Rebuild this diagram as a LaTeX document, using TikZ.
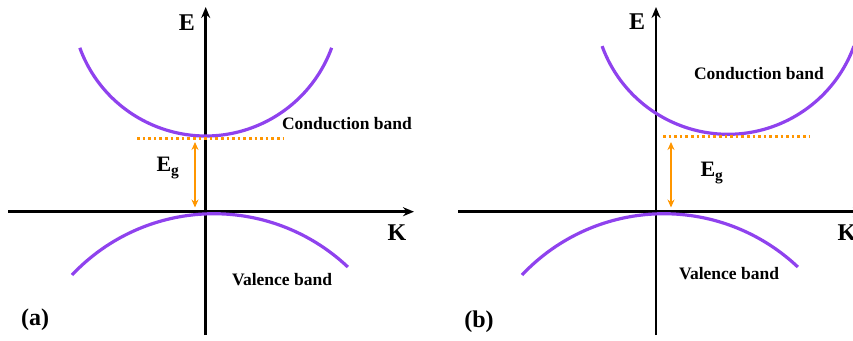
\documentclass[tikz,border=0pt]{standalone}
\usepackage{fontspec}
\setmainfont{Liberation Serif}
\usetikzlibrary{arrows.meta}
\definecolor{bandpurple}{RGB}{143,66,238}
\definecolor{gaporange}{RGB}{255,150,0}
\tikzset{
  axisline/.style={line width=2.8pt,black,-{Stealth[length=11pt,width=9pt]}},
  band/.style={line width=3.2pt,bandpurple},
  level/.style={line width=2.8pt,gaporange,dash pattern=on 2.6pt off 3pt},
  gap/.style={line width=2pt,gaporange,{Stealth[length=8pt,width=7pt]}-{Stealth[length=8pt,width=7pt]}},
  bandlabel/.style={font=\fontsize{17.5}{20}\selectfont\bfseries,inner sep=0pt},
  axislabel/.style={font=\fontsize{24}{28}\selectfont\bfseries,inner sep=0pt},
  gaplabel/.style={font=\fontsize{22}{26}\selectfont\bfseries,inner sep=0pt},
  panellabel/.style={font=\fontsize{24}{28}\selectfont\bfseries,inner sep=0pt},
}
\begin{document}
\begin{tikzpicture}[x=1pt,y=1pt]
\useasboundingbox (0,0) rectangle (853,340);
\clip (0,0) rectangle (853,340);
% ---------- panel (a) ----------
\coordinate (aEbot) at (205.7,5);
\coordinate (aEtop) at (205.7,333);
\coordinate (aKl) at (8,128.3);
\coordinate (aKr) at (414,128.3);
\draw[axisline] (aEbot) -- (aEtop);
\draw[axisline] (aKl) -- (aKr);
\coordinate (aCstart) at (79.8,292.2);
\draw[band] (aCstart) arc[start angle=200,end angle=340,radius=134];
\coordinate (aVstart) at (72,65);
\draw[band] (aVstart) arc[start angle=136.7,end angle=46.6,radius=195];
\coordinate (aLl) at (137,201.7);
\coordinate (aLr) at (283,201.7);
\draw[level] (aLl) -- (aLr);
\coordinate (aGtop) at (195,198);
\coordinate (aGbot) at (195,132.5);
\draw[gap] (aGbot) -- (aGtop);
\node[axislabel] (aE) at (187,317) {E};
\node[axislabel] (aK) at (397,107) {K};
\node[bandlabel] (aCB) at (347,216) {Conduction band};
\node[bandlabel] (aVB) at (282,60) {Valence band};
\node[gaplabel] (aEg) at (168,172) {E\textsubscript{g}};
\node[panellabel] (aP) at (35,20) {(a)};
% ---------- panel (b) ----------
\coordinate (bEbot) at (656,5);
\coordinate (bEtop) at (656,333);
\coordinate (bKl) at (458,128.3);
\coordinate (bKr) at (864,128.3);
\draw[axisline] (bEbot) -- (bEtop);
\draw[axisline] (bKl) -- (bKr);
\coordinate (bCstart) at (602.1,293.9);
\draw[band] (bCstart) arc[start angle=200,end angle=340,radius=134];
\coordinate (bVstart) at (522,65);
\draw[band] (bVstart) arc[start angle=136.7,end angle=46.6,radius=195];
\coordinate (bLl) at (663,203.3);
\coordinate (bLr) at (809,203.3);
\draw[level] (bLl) -- (bLr);
\coordinate (bGtop) at (671,198);
\coordinate (bGbot) at (671,132.5);
\draw[gap] (bGbot) -- (bGtop);
\node[axislabel] (bE) at (637,318) {E};
\node[axislabel] (bK) at (847,107) {K};
\node[bandlabel] (bCB) at (759,266) {Conduction band};
\node[bandlabel] (bVB) at (729,66) {Valence band};
\node[gaplabel] (bEg) at (712,167) {E\textsubscript{g}};
\node[panellabel] (bP) at (479,18) {(b)};
\end{tikzpicture}
\end{document}
